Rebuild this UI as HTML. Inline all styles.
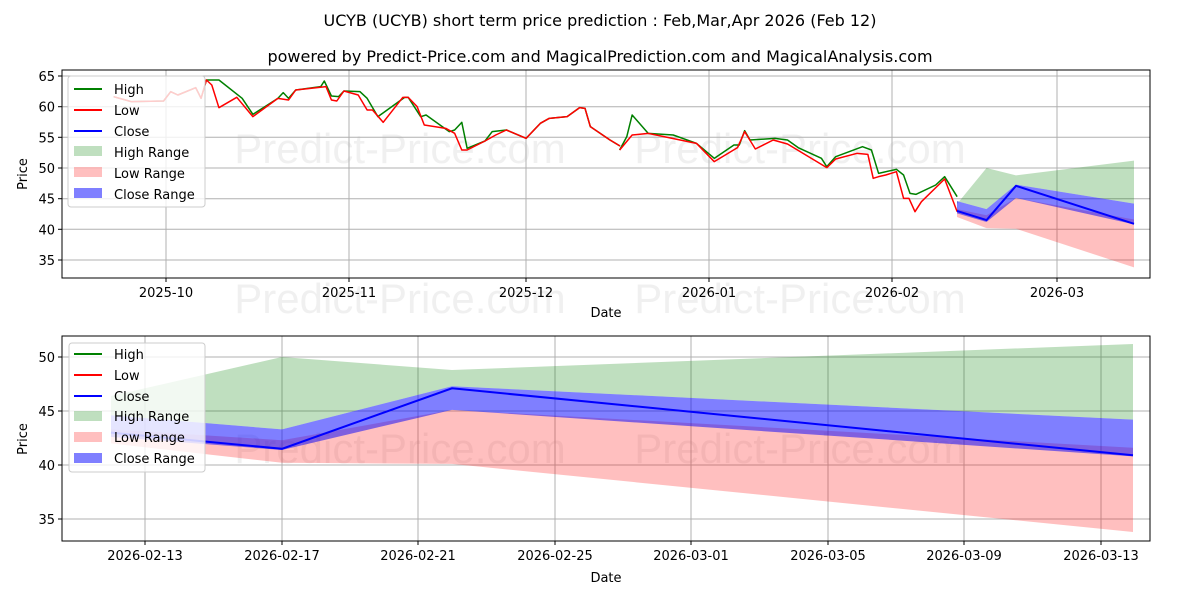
<!DOCTYPE html>
<html><head><meta charset="utf-8"><style>
body{margin:0;background:#fff}
svg{display:block;font-family:"DejaVu Sans","Liberation Sans",sans-serif}
</style></head><body>
<svg width="1200" height="600" viewBox="0 0 1200 600" xmlns="http://www.w3.org/2000/svg">
<rect width="1200" height="600" fill="#fff"/>
<text x="600" y="26" font-size="16" text-anchor="middle">UCYB (UCYB) short term price prediction : Feb,Mar,Apr 2026 (Feb 12)</text>
<text x="600" y="62" font-size="16" text-anchor="middle">powered by Predict-Price.com and MagicalPrediction.com and MagicalAnalysis.com</text>

<!-- watermarks -->
<g fill="#000" opacity="0.055" font-size="42" font-family="Liberation Sans, sans-serif">
<text x="400" y="163" text-anchor="middle">Predict-Price.com</text>
<text x="800" y="163" text-anchor="middle">Predict-Price.com</text>
<text x="400" y="313" text-anchor="middle">Predict-Price.com</text>
<text x="800" y="313" text-anchor="middle">Predict-Price.com</text>
<text x="400" y="463" text-anchor="middle">Predict-Price.com</text>
<text x="800" y="463" text-anchor="middle">Predict-Price.com</text>
</g>

<!-- TOP AXES -->
<g stroke="#b0b0b0" stroke-width="1">
<line x1="62" x2="1150" y1="76" y2="76"/><line x1="62" x2="1150" y1="106.7" y2="106.7"/>
<line x1="62" x2="1150" y1="137.3" y2="137.3"/><line x1="62" x2="1150" y1="168" y2="168"/>
<line x1="62" x2="1150" y1="198.7" y2="198.7"/><line x1="62" x2="1150" y1="229.3" y2="229.3"/>
<line x1="62" x2="1150" y1="260" y2="260"/>
<line x1="166" x2="166" y1="70" y2="278"/><line x1="349" x2="349" y1="70" y2="278"/>
<line x1="526" x2="526" y1="70" y2="278"/><line x1="709" x2="709" y1="70" y2="278"/>
<line x1="892" x2="892" y1="70" y2="278"/><line x1="1057" x2="1057" y1="70" y2="278"/>
</g>
<polygon fill="green" fill-opacity="0.25" points="957,204 986.5,168 1016,175.4 1134,160.6 1134,203.6 1016,184.6 986.5,209.1 957,201.1"/>
<polygon fill="red" fill-opacity="0.25" points="957,209.1 986.5,215.2 1016,198 1134,219.5 1134,267.4 1016,228.7 986.5,228.1 957,217"/>
<polygon fill="blue" fill-opacity="0.5" points="957,201.1 986.5,209.1 1016,184.6 1134,203.6 1134,224.4 1016,198 986.5,222 957,213.4"/>
<g fill="none" stroke-width="1.5" stroke-linejoin="round">
<g transform="translate(60,65) scale(0.35714,0.33333)">
<polyline vector-effect="non-scaling-stroke" stroke="green" points="150,95 200,110 290,108 310,80 330,90 380,68 395,100 410,45 445,45 510,100 540,148 610,100 625,83 640,100 660,75 730,65 740,48 760,93 780,95 795,78 840,80 860,100 890,155 965,97 975,97 1010,155 1025,150 1090,200 1105,195 1125,172 1140,250 1190,228 1210,200 1250,195 1305,220 1345,175 1370,160 1420,155 1455,128 1470,130 1485,185 1540,225 1568,243"/>
<polyline vector-effect="non-scaling-stroke" stroke="red" points="150,95 200,110 290,108 310,80 330,90 380,68 395,100 410,45 425,60 445,128 495,97 540,155 610,100 640,105 660,75 745,65 760,105 775,108 795,78 835,90 860,135 875,135 905,172 960,97 975,97 1000,125 1020,180 1080,190 1105,205 1125,255 1140,255 1190,228 1220,210 1250,195 1305,220 1345,175 1370,160 1420,155 1455,128 1470,130 1485,185 1540,225 1568,243"/>
</g>
<g transform="translate(600,65) scale(0.35714,0.33333)">
<polyline vector-effect="non-scaling-stroke" stroke="green" points="55,255 75,215 90,150 135,205 205,210 270,235 320,280 375,240 390,240 405,197 420,225 490,220 525,225 555,248 620,280 635,305 660,275 735,245 760,255 780,325 830,313 850,330 868,385 885,388 940,360 965,335 1000,395"/>
<polyline vector-effect="non-scaling-stroke" stroke="red" points="55,255 90,210 135,205 270,235 320,290 385,248 405,200 435,252 485,225 525,237 635,308 660,282 720,265 750,268 765,340 780,335 800,330 830,320 850,400 865,400 882,440 900,410 965,342 1000,440"/>
</g>
<polyline stroke="blue" stroke-width="2" points="957,210.9 986.5,220.1 1016,185.8 1134,223.8"/>
</g>
<rect x="62" y="70" width="1088" height="208" fill="none" stroke="#000" stroke-width="1"/>
<g font-size="13" text-anchor="end">
<text x="55" y="81">65</text><text x="55" y="111.7">60</text><text x="55" y="142.3">55</text>
<text x="55" y="173">50</text><text x="55" y="203.7">45</text><text x="55" y="234.3">40</text><text x="55" y="265">35</text>
</g>
<g stroke="#000"><line x1="58" x2="62" y1="76" y2="76"/><line x1="58" x2="62" y1="106.7" y2="106.7"/><line x1="58" x2="62" y1="137.3" y2="137.3"/><line x1="58" x2="62" y1="168" y2="168"/><line x1="58" x2="62" y1="198.7" y2="198.7"/><line x1="58" x2="62" y1="229.3" y2="229.3"/><line x1="58" x2="62" y1="260" y2="260"/>
<line x1="166" x2="166" y1="278" y2="282"/><line x1="349" x2="349" y1="278" y2="282"/><line x1="526" x2="526" y1="278" y2="282"/><line x1="709" x2="709" y1="278" y2="282"/><line x1="892" x2="892" y1="278" y2="282"/><line x1="1057" x2="1057" y1="278" y2="282"/></g>
<g font-size="13" text-anchor="middle">
<text x="166" y="297">2025-10</text><text x="349" y="297">2025-11</text><text x="526" y="297">2025-12</text>
<text x="709" y="297">2026-01</text><text x="892" y="297">2026-02</text><text x="1057" y="297">2026-03</text>
<text x="606" y="317">Date</text>
</g>
<text x="27" y="174" font-size="13" text-anchor="middle" transform="rotate(-90 27 174)">Price</text>
<!-- legend top -->
<rect x="68" y="76" width="137" height="131" rx="3" fill="#fff" fill-opacity="0.8" stroke="#ccc"/>
<g font-size="13">
<line x1="74" x2="102" y1="89" y2="89" stroke="green" stroke-width="2"/><text x="114" y="94">High</text>
<line x1="74" x2="102" y1="110" y2="110" stroke="red" stroke-width="2"/><text x="114" y="115">Low</text>
<line x1="74" x2="102" y1="131" y2="131" stroke="blue" stroke-width="2"/><text x="114" y="136">Close</text>
<rect x="74" y="146" width="28" height="10" fill="green" fill-opacity="0.25"/><text x="114" y="157">High Range</text>
<rect x="74" y="167" width="28" height="10" fill="red" fill-opacity="0.25"/><text x="114" y="178">Low Range</text>
<rect x="74" y="188" width="28" height="10" fill="blue" fill-opacity="0.5"/><text x="114" y="199">Close Range</text>
</g>

<!-- BOTTOM AXES -->
<g stroke="#b0b0b0" stroke-width="1">
<line x1="62" x2="1150" y1="357" y2="357"/><line x1="62" x2="1150" y1="411" y2="411"/>
<line x1="62" x2="1150" y1="465" y2="465"/><line x1="62" x2="1150" y1="519" y2="519"/>
<line x1="145" x2="145" y1="336" y2="541"/><line x1="282" x2="282" y1="336" y2="541"/>
<line x1="418" x2="418" y1="336" y2="541"/><line x1="555" x2="555" y1="336" y2="541"/>
<line x1="691" x2="691" y1="336" y2="541"/><line x1="828" x2="828" y1="336" y2="541"/>
<line x1="964" x2="964" y1="336" y2="541"/><line x1="1101" x2="1101" y1="336" y2="541"/>
</g>
<polygon fill="green" fill-opacity="0.25" points="111,396 282,357 452,370 1133,344 1133,419.6 452,386.2 282,429.4 111,415.3"/>
<polygon fill="red" fill-opacity="0.25" points="111,429.4 282,440.2 452,409.9 1133,447.7 1133,532 452,463.9 282,462.8 111,443.4"/>
<polygon fill="blue" fill-opacity="0.5" points="111,415.3 282,429.4 452,386.2 1133,419.6 1133,456.4 452,409.9 282,450 111,436.9"/>
<polyline fill="none" stroke="blue" stroke-width="2" points="111,432.6 282,448.8 452,388.3 1133,455.3"/>
<rect x="62" y="336" width="1088" height="205" fill="none" stroke="#000" stroke-width="1"/>
<g font-size="13" text-anchor="end">
<text x="55" y="362">50</text><text x="55" y="416">45</text><text x="55" y="470">40</text><text x="55" y="524">35</text>
</g>
<g stroke="#000"><line x1="58" x2="62" y1="357" y2="357"/><line x1="58" x2="62" y1="411" y2="411"/><line x1="58" x2="62" y1="465" y2="465"/><line x1="58" x2="62" y1="519" y2="519"/>
<line x1="145" x2="145" y1="541" y2="545"/><line x1="282" x2="282" y1="541" y2="545"/><line x1="418" x2="418" y1="541" y2="545"/><line x1="555" x2="555" y1="541" y2="545"/><line x1="691" x2="691" y1="541" y2="545"/><line x1="828" x2="828" y1="541" y2="545"/><line x1="964" x2="964" y1="541" y2="545"/><line x1="1101" x2="1101" y1="541" y2="545"/></g>
<g font-size="13" text-anchor="middle">
<text x="145" y="560">2026-02-13</text><text x="282" y="560">2026-02-17</text><text x="418" y="560">2026-02-21</text>
<text x="555" y="560">2026-02-25</text><text x="691" y="560">2026-03-01</text><text x="828" y="560">2026-03-05</text>
<text x="964" y="560">2026-03-09</text><text x="1101" y="560">2026-03-13</text>
<text x="606" y="582">Date</text>
</g>
<text x="27" y="439" font-size="13" text-anchor="middle" transform="rotate(-90 27 439)">Price</text>
<!-- legend bottom -->
<rect x="69" y="343" width="136" height="129" rx="3" fill="#fff" fill-opacity="0.8" stroke="#ccc"/>
<g font-size="13">
<line x1="74" x2="102" y1="354" y2="354" stroke="green" stroke-width="2"/><text x="114" y="359">High</text>
<line x1="74" x2="102" y1="375" y2="375" stroke="red" stroke-width="2"/><text x="114" y="380">Low</text>
<line x1="74" x2="102" y1="396" y2="396" stroke="blue" stroke-width="2"/><text x="114" y="401">Close</text>
<rect x="74" y="411" width="28" height="10" fill="green" fill-opacity="0.25"/><text x="114" y="421">High Range</text>
<rect x="74" y="432" width="28" height="10" fill="red" fill-opacity="0.25"/><text x="114" y="442">Low Range</text>
<rect x="74" y="453" width="28" height="10" fill="blue" fill-opacity="0.5"/><text x="114" y="463">Close Range</text>
</g>
</svg>
</body></html>
